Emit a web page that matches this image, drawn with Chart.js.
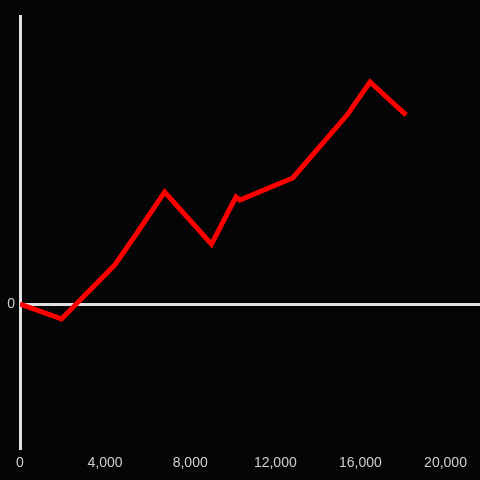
<!DOCTYPE html>
<html>
<head>
<meta charset="utf-8">
<script src="https://cdn.jsdelivr.net/npm/chart.js@4"></script>
<style>
  body { margin: 0; background: #050507; }
  canvas { display: block; }
</style>
</head>
<body>
<canvas id="chart" width="480" height="480"></canvas>
<script>
const xValues = [0, 1950, 4450, 5530, 6800, 9000, 10150, 10330, 12820, 15370, 16450, 18150];
const yValues = [0, -0.052, 0.135, 0.25, 0.389, 0.208, 0.372, 0.361, 0.4375, 0.656, 0.771, 0.656];
const xTicks = [0, 4000, 8000, 12000, 16000, 20000];
const yTicks = [0];

const axisColor = "#e2e2e2";
const labelColor = "#cfcfcf";

const points = xValues.map((x, i) => ({ x: x, y: yValues[i] }));

const chartCanvas = document.querySelector("#chart");
const chart = new Chart(chartCanvas, {
  type: "line",
  data: {
    datasets: [
      {
        data: points,
        borderColor: "#ff0000",
        borderWidth: 5,
        pointRadius: 0,
        fill: false,
        tension: 0,
      },
    ],
  },
  options: {
    responsive: false,
    animation: false,
    layout: {
      padding: { top: 16, right: 0, left: 0, bottom: 0 },
    },
    plugins: {
      legend: { display: false },
      tooltip: { enabled: false },
    },
    scales: {
      x: {
        type: "linear",
        min: 0,
        max: 21620,
        afterBuildTicks: (scale) => {
          scale.ticks = xTicks.map((v) => ({ value: v }));
        },
        afterFit: (scale) => {
          scale.height = 32;
        },
        border: { display: false },
        grid: { display: false, drawTicks: false },
        ticks: {
          color: labelColor,
          padding: 7,
          maxRotation: 0,
          font: { family: "Liberation Sans", size: 14 },
          callback: (v) => v.toLocaleString("en-US"),
        },
      },
      y: {
        min: -0.5,
        max: 1,
        afterBuildTicks: (scale) => {
          scale.ticks = yTicks.map((v) => ({ value: v }));
        },
        afterFit: (scale) => {
          scale.width = 20;
        },
        border: { display: true, color: axisColor, width: 3 },
        grid: {
          drawTicks: false,
          color: (ctx) => (ctx.tick && ctx.tick.value === 0 ? axisColor : "transparent"),
          lineWidth: 3,
        },
        ticks: {
          color: labelColor,
          padding: 5,
          font: { family: "Liberation Sans", size: 14 },
          callback: (v) => String(v),
        },
      },
    },
  },
});
</script>
</body>
</html>
